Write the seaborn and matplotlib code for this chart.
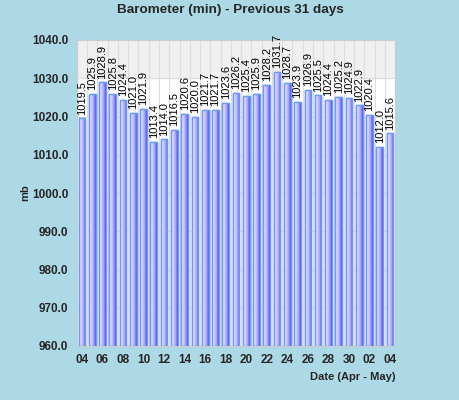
import numpy as np
import pandas as pd
import matplotlib
matplotlib.use("Agg")
import matplotlib.pyplot as plt
from matplotlib.colors import LinearSegmentedColormap
import seaborn as sns

days = ["04", "05", "06", "07", "08", "09", "10", "11", "12", "13", "14", "15", "16",
        "17", "18", "19", "20", "21", "22", "23", "24", "25", "26", "27", "28", "29",
        "30", "01", "02", "03", "04"]
pressure = [1019.5, 1025.9, 1028.9, 1025.8, 1024.4, 1021.0, 1021.9, 1013.4, 1014.0,
            1016.5, 1020.6, 1020.0, 1021.7, 1021.7, 1023.6, 1026.2, 1025.4, 1025.9,
            1028.2, 1031.7, 1028.7, 1023.9, 1026.9, 1025.5, 1024.4, 1025.2, 1024.9,
            1022.9, 1020.4, 1012.0, 1015.6]
y_ticks = [960, 970, 980, 990, 1000, 1010, 1020, 1030, 1040]

sns.set_style("white")
plt.rcParams["font.family"] = ["Liberation Sans", "DejaVu Sans"]

df = pd.DataFrame({"pos": range(len(days)), "mb": pressure})

fig = plt.figure(figsize=(4.6, 4.0), dpi=100, facecolor="#add8e6")
ax = fig.add_axes([0.167, 0.135, 0.692, 0.765])
ax.set_facecolor("white")

sns.barplot(data=df, x="pos", y="mb", color="#9999ff", edgecolor="#6a9cf5",
            linewidth=1.0, width=0.65, ax=ax, zorder=3)

# gradient fill inside every bar
grad_cmap = LinearSegmentedColormap.from_list(
    "bar", ["#f2effc", "#d6d0f4", "#a8a4f8", "#4a4cff"])
grad = np.linspace(0, 1, 64).reshape(1, -1)
for p in ax.patches:
    x0, w = p.get_x(), p.get_width()
    y0, h = p.get_y(), p.get_height()
    im = ax.imshow(grad, cmap=grad_cmap, extent=[x0, x0 + w, 960, y0 + h],
                   aspect="auto", zorder=3.5, interpolation="bilinear")
    im.set_clip_path(p)
    ax.add_patch(plt.Rectangle((x0, 960), w, y0 + h - 960, fill=False,
                               edgecolor="#6a9cf5", linewidth=1.0, zorder=4))

for i, v in enumerate(pressure):
    ax.text(i, v + 1.0, f"{v:.1f}", rotation=90, ha="center", va="bottom",
            fontsize=8, color="black", zorder=5)

ax.axhspan(1030, 1040, color="#f0f0f0", zorder=0)
for yv in y_ticks:
    ax.axhline(yv, color="#dddddd", linewidth=0.8, zorder=1)
for i in range(len(days) + 1):
    ax.axvline(i - 0.5, color="#dddddd", linewidth=0.8, zorder=1)

ax.set_xlim(-0.5, len(days) - 0.5)
ax.set_ylim(960, 1040)
ax.set_yticks(y_ticks)
ax.set_yticklabels([f"{t:.1f}" for t in y_ticks], fontweight="bold", fontsize=8.5)
ax.set_xticks(range(0, len(days), 2))
ax.set_xticklabels(days[::2], fontweight="bold", fontsize=8.5)
ax.tick_params(length=0, pad=6)

ax.set_xlabel("Date (Apr - May)", fontweight="bold", fontsize=8, loc="right")
ax.set_ylabel("mb", fontweight="bold", fontsize=8, labelpad=1)

for s in ax.spines.values():
    s.set_color("#cccccc")
    s.set_linewidth(0.8)

fig.suptitle("Barometer (min) - Previous 31 days", fontweight="bold",
             fontsize=9.7, y=0.99)

fig.savefig("out.png", dpi=100, facecolor=fig.get_facecolor())
